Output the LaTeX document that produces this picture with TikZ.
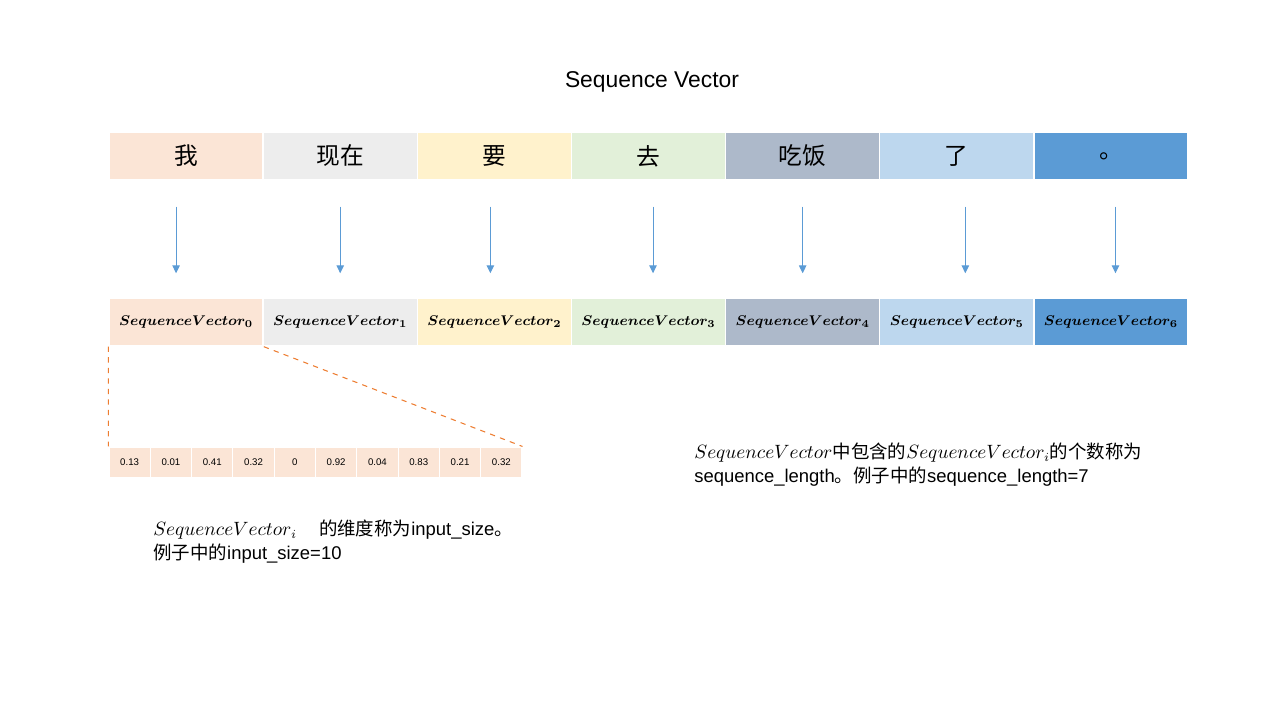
\documentclass[tikz,border=0pt]{standalone}
\usepackage[no-math]{fontspec}
\setmainfont{Liberation Sans}
\newfontfamily\cjk{Noto Sans CJK SC}
\usepackage{xcolor}
\definecolor{peach}{HTML}{FBE5D6}
\definecolor{silver}{HTML}{EDEDED}
\definecolor{cream}{HTML}{FFF2CC}
\definecolor{mint}{HTML}{E2F0D9}
\definecolor{slate}{HTML}{ADB9CA}
\definecolor{sky}{HTML}{BDD7EE}
\definecolor{ocean}{HTML}{5B9BD5}
\definecolor{rust}{HTML}{ED7D31}
\usetikzlibrary{arrows.meta,positioning}
\tikzset{
  word/.style={fill=#1, draw=white, line width=0.8pt, minimum width=3.083cm, minimum height=0.96cm, inner sep=0pt, font=\cjk\fontsize{13.5}{16}\selectfont},
  vec/.style={word=#1, font=\boldmath\fontsize{8.5}{10}\selectfont},
  dim/.style={fill=peach, draw=white, line width=0.6pt, minimum width=0.826cm, minimum height=0.62cm, inner sep=0pt, font=\fontsize{5.5}{6}\selectfont},
  flow/.style={-{Triangle[length=1.6mm,width=1.5mm]}, draw=ocean, line width=0.6pt, shorten <=0.52cm, shorten >=0.48cm},
  zoomline/.style={draw=rust, dashed, line width=0.6pt},
  note/.style={align=left, anchor=north west, inner sep=0pt, font=\fontsize{10.5}{13.6}\selectfont},
}
\begin{document}
\begin{tikzpicture}
  \useasboundingbox (0,0) rectangle (25.6,14.4);
  \node[font=\fontsize{13}{16}\selectfont] (title) at (13.04,12.76) {Sequence Vector};

  % words and their vectors
  \foreach \w/\c/\o [count=\i from 0] in {我/peach/-0.2, 现在/silver/0, 要/cream/-0.08, 去/mint/0.09, 吃饭/slate/0, 了/sky/0.17, 。/ocean/0.09} {
    \node[word=\c] (w\i) at ({2.18+3.083*(\i+0.5)},11.28) {\w};
    \node[vec=\c] (v\i) at ({2.18+3.083*(\i+0.5)},7.96) {$SequenceVector_{\i}$};
    \draw[flow] ([xshift=\o cm]w\i.south) -- ([xshift=\o cm]v\i.north);
  }

  % one vector, input_size values
  \foreach \n [count=\j from 0] in {0.13,0.01,0.41,0.32,0,0.92,0.04,0.83,0.21,0.32}
    \node[dim] (d\j) at ({2.18+0.826*(\j+0.5)},5.15) {\n};
  \draw[zoomline] (v0.south west) -- (d0.north west);
  \draw[zoomline] (v0.south east) -- (d9.north east);

  \node[note] (dimnote) at (3.06,4.0)
    {$SequenceVector_i$\hspace{1.2em}{\cjk 的维度称为}input\_size{\cjk 。}\\{\cjk 例子中的}input\_size=10};
  \node[note] (lennote) at (13.88,5.55)
    {$SequenceVector${\cjk 中包含的}$SequenceVector_i${\cjk 的个数称为}\\sequence\_length{\cjk 。例子中的}sequence\_length=7};
\end{tikzpicture}
\end{document}
